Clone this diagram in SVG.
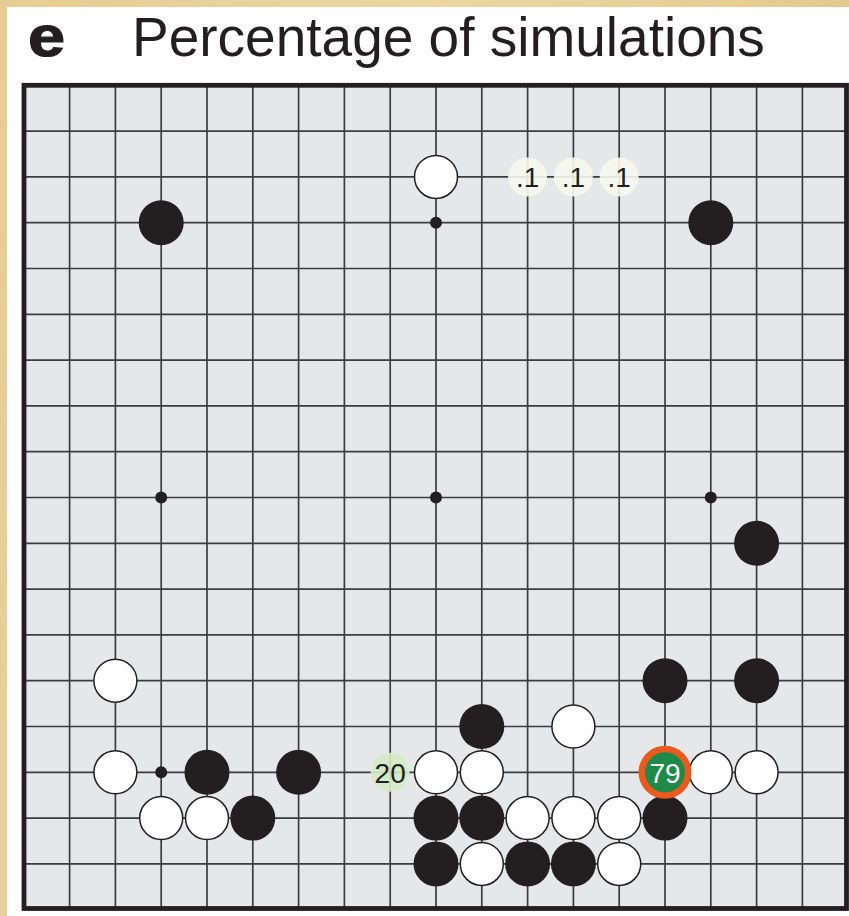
<svg xmlns="http://www.w3.org/2000/svg" width="849" height="916" viewBox="0 0 849 916">
<style>
.title{font-family:"Liberation Sans",Arial,sans-serif;fill:#231f20}
.grid{stroke:#3d3d3d;stroke-width:1.7;fill:none}
.b{fill:#231f20}
.w{fill:#fff;stroke:#231f20;stroke-width:1.5}
.star{fill:#231f20}
.lbl{font-family:"Liberation Sans",Arial,sans-serif;font-size:28px;text-anchor:middle}
</style>
<defs>
<linearGradient id="wood" x1="0" y1="0" x2="1" y2="0.2">
<stop offset="0" stop-color="#e6cc92"/>
<stop offset="0.5" stop-color="#ecd6a2"/>
<stop offset="1" stop-color="#e3c88c"/>
</linearGradient>
</defs>
<rect x="0" y="0" width="849" height="916" fill="url(#wood)"/>
<rect x="7" y="7" width="842" height="909" fill="#fff"/>
<text class="title" transform="translate(28 56) scale(1.17 1)" x="0" y="0" font-size="57" font-weight="bold" stroke="#231f20" stroke-width="1.2">e</text>
<text class="title" x="132" y="56" font-size="55">Percentage of simulations</text>
<g id="board">
<rect x="24" y="85.3" width="822.5" height="823.2" fill="#e6e7e9"/>
<path class="grid" d="M69.6 85.3V908.5M115.4 85.3V908.5M161.2 85.3V908.5M207 85.3V908.5M252.8 85.3V908.5M298.6 85.3V908.5M344.4 85.3V908.5M390.2 85.3V908.5M436 85.3V908.5M481.8 85.3V908.5M527.6 85.3V908.5M573.4 85.3V908.5M619.2 85.3V908.5M665 85.3V908.5M710.8 85.3V908.5M756.6 85.3V908.5M802.4 85.3V908.5M24 131.1H846.5M24 176.9H846.5M24 222.7H846.5M24 268.5H846.5M24 314.3H846.5M24 360.1H846.5M24 405.9H846.5M24 451.7H846.5M24 497.5H846.5M24 543.3H846.5M24 589.1H846.5M24 634.9H846.5M24 680.7H846.5M24 726.5H846.5M24 772.3H846.5M24 818.1H846.5M24 863.9H846.5"/>
<rect x="24" y="85.3" width="822.5" height="823.2" fill="none" stroke="#231f20" stroke-width="4.8"/>
<circle class="star" cx="161.2" cy="222.7" r="6"/>
<circle class="star" cx="436" cy="222.7" r="6"/>
<circle class="star" cx="710.8" cy="222.7" r="6"/>
<circle class="star" cx="161.2" cy="497.5" r="6"/>
<circle class="star" cx="436" cy="497.5" r="6"/>
<circle class="star" cx="710.8" cy="497.5" r="6"/>
<circle class="star" cx="161.2" cy="772.3" r="6"/>
</g>
<g id="stones">
<circle class="w" cx="436" cy="176.9" r="21.5"/>
<circle class="b" cx="161.2" cy="222.7" r="22.5"/>
<circle class="b" cx="710.8" cy="222.7" r="22.5"/>
<circle class="b" cx="756.6" cy="543.3" r="22.5"/>
<circle class="w" cx="115.4" cy="680.7" r="21.5"/>
<circle class="b" cx="665" cy="680.7" r="22.5"/>
<circle class="b" cx="756.6" cy="680.7" r="22.5"/>
<circle class="b" cx="481.8" cy="726.5" r="22.5"/>
<circle class="w" cx="573.4" cy="726.5" r="21.5"/>
<circle class="w" cx="115.4" cy="772.3" r="21.5"/>
<circle class="b" cx="207" cy="772.3" r="22.5"/>
<circle class="b" cx="298.6" cy="772.3" r="22.5"/>
<circle class="w" cx="436" cy="772.3" r="21.5"/>
<circle class="w" cx="481.8" cy="772.3" r="21.5"/>
<circle class="w" cx="710.8" cy="772.3" r="21.5"/>
<circle class="w" cx="756.6" cy="772.3" r="21.5"/>
<circle class="w" cx="161.2" cy="818.1" r="21.5"/>
<circle class="w" cx="207" cy="818.1" r="21.5"/>
<circle class="b" cx="252.8" cy="818.1" r="22.5"/>
<circle class="b" cx="436" cy="818.1" r="22.5"/>
<circle class="b" cx="481.8" cy="818.1" r="22.5"/>
<circle class="w" cx="527.6" cy="818.1" r="21.5"/>
<circle class="w" cx="573.4" cy="818.1" r="21.5"/>
<circle class="w" cx="619.2" cy="818.1" r="21.5"/>
<circle class="b" cx="665" cy="818.1" r="22.5"/>
<circle class="b" cx="436" cy="863.9" r="22.5"/>
<circle class="w" cx="481.8" cy="863.9" r="21.5"/>
<circle class="b" cx="527.6" cy="863.9" r="22.5"/>
<circle class="b" cx="573.4" cy="863.9" r="22.5"/>
<circle class="w" cx="619.2" cy="863.9" r="21.5"/>
</g>
<g id="labels">
<g id="p1a"><circle cx="527.6" cy="176.9" r="19.5" fill="#f6f8ee" fill-opacity="0.9"/><text class="lbl" x="527.6" y="187" fill="#231f20">.1</text></g>
<g id="p1b"><circle cx="573.4" cy="176.9" r="19.5" fill="#f6f8ee" fill-opacity="0.9"/><text class="lbl" x="573.4" y="187" fill="#231f20">.1</text></g>
<g id="p1c"><circle cx="619.2" cy="176.9" r="19.5" fill="#f6f8ee" fill-opacity="0.9"/><text class="lbl" x="619.2" y="187" fill="#231f20">.1</text></g>
<g id="p20"><circle cx="390.2" cy="772.3" r="19.5" fill="#d3ebc6" fill-opacity="0.9"/><text class="lbl" x="390.2" y="783" fill="#231f20" font-size="26">20</text></g>
<g id="p79"><circle cx="665" cy="772.3" r="23.2" fill="#1e8a48" stroke="#e85a1e" stroke-width="6.5"/><text class="lbl" x="665" y="782.5" fill="#fff" font-size="27">79</text></g>
</g>
</svg>
